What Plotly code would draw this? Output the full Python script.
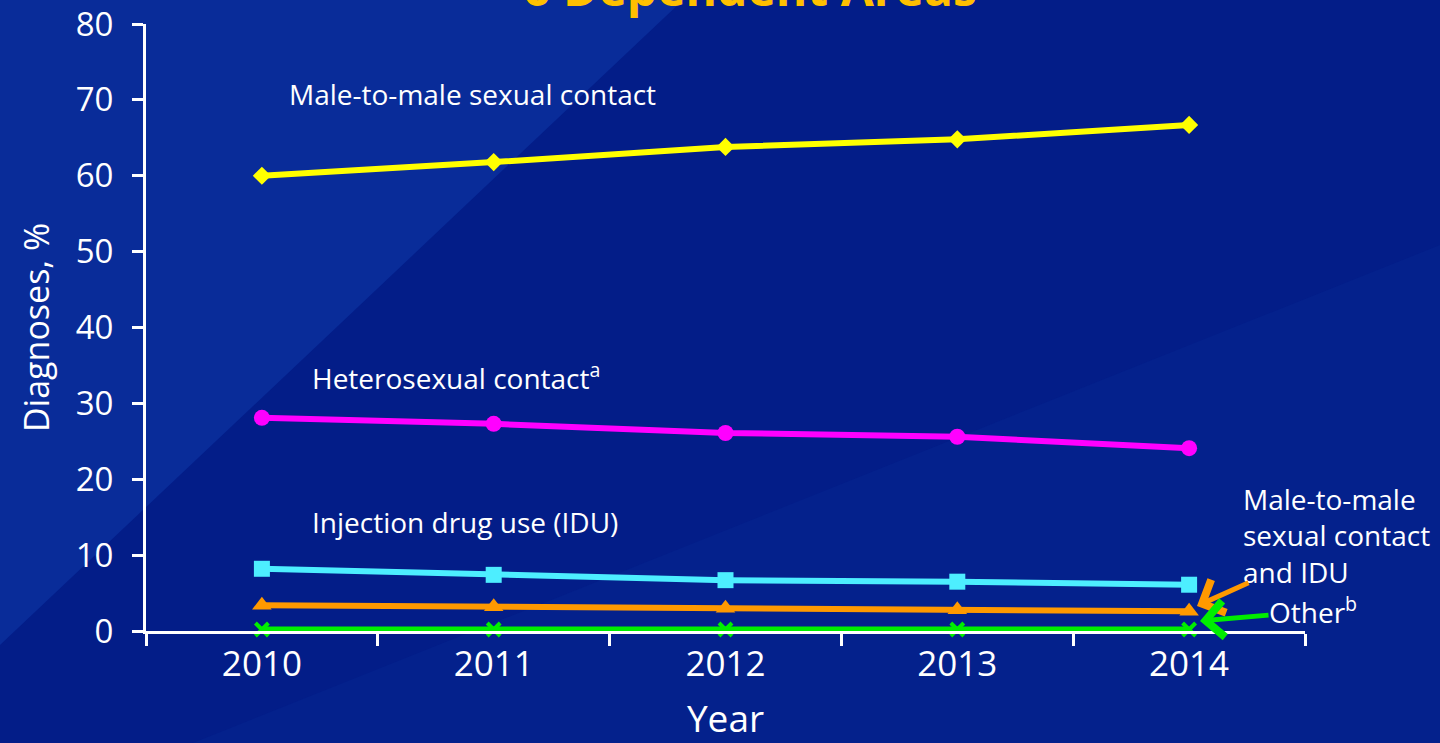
import plotly.graph_objects as go

years = ["2010", "2011", "2012", "2013", "2014"]
msm = [60.0, 61.8, 63.8, 64.8, 66.7]
hetero = [28.1, 27.3, 26.1, 25.6, 24.1]
idu = [8.2, 7.4, 6.7, 6.5, 6.1]
msm_idu = [3.4, 3.2, 3.0, 2.8, 2.6]
other = [0.2, 0.2, 0.2, 0.2, 0.2]

FONT = "Open Sans"
W, H = 1440, 743
L, R, T, B = 146, 135, 24, 112
PW, PH = W - L - R, H - T - B

def px(x):
    return (x - L) / PW

def py(y):
    return (H - B - y) / PH

fig = go.Figure()

series = [
    (msm, "#FFFF00", "diamond", 14),
    (hetero, "#FF00FF", "circle", 16),
    (idu, "#4DEEFF", "square", 16),
    (msm_idu, "#FF9900", "triangle-up", 17),
    (other, "#00EE00", "x-thin", 13),
]
for vals, col, sym, sz in series:
    fig.add_trace(go.Scatter(
        x=years, y=vals, mode="lines+markers",
        line=dict(color=col, width=6),
        marker=dict(symbol=sym, size=sz, color=col,
                    line=dict(color=col, width=4 if sym == "x-thin" else 0)),
        showlegend=False, cliponaxis=False,
    ))

shapes = [
    dict(type="path", xref="paper", yref="paper", layer="below",
         path=f"M {px(0)},{py(743)} L {px(0)},{py(820)} L {px(1440)},{py(245)} L {px(1440)},{py(743)} Z",
         fillcolor="#04218c", opacity=1, line=dict(width=0)),
    dict(type="path", xref="paper", yref="paper", layer="below",
         path=f"M {px(0)},{py(0)} L {px(683)},{py(0)} L {px(0)},{py(645)} Z",
         fillcolor="#092c99", opacity=1, line=dict(width=0)),
]

annotations = [
    dict(text="<b>6 Dependent Areas</b>", x=px(750), y=py(-12), xref="paper", yref="paper",
         showarrow=False, font=dict(family=FONT, size=48, color="#FFC000"),
         xanchor="center", yanchor="middle"),
    dict(text="Male-to-male sexual contact", x=px(287), y=py(94), xref="paper", yref="paper",
         showarrow=False, font=dict(family=FONT, size=28, color="white"),
         xanchor="left", yanchor="middle"),
    dict(text="Heterosexual contact<sup>a</sup>", x=px(310), y=py(376), xref="paper", yref="paper",
         showarrow=False, font=dict(family=FONT, size=28, color="white"),
         xanchor="left", yanchor="middle"),
    dict(text="Injection drug use (IDU)", x=px(310), y=py(522), xref="paper", yref="paper",
         showarrow=False, font=dict(family=FONT, size=28, color="white"),
         xanchor="left", yanchor="middle"),
    dict(text="Male-to-male<br>sexual contact<br>and IDU", x=px(1241), y=py(535), xref="paper", yref="paper",
         showarrow=False, font=dict(family=FONT, size=28, color="white"),
         xanchor="left", yanchor="middle", align="left"),
    dict(text="Other<sup>b</sup>", x=px(1267), y=py(610), xref="paper", yref="paper",
         showarrow=False, font=dict(family=FONT, size=28, color="white"),
         xanchor="left", yanchor="middle"),
    dict(text="", x=px(1197), y=py(606), xref="paper", yref="paper",
         showarrow=True, ax=1250 - 1197, ay=582 - 606, arrowhead=4, arrowsize=1.4,
         arrowwidth=5, arrowcolor="#FF9900"),
    dict(text="", x=px(1200), y=py(621), xref="paper", yref="paper",
         showarrow=True, ax=1270 - 1200, ay=615 - 621, arrowhead=4, arrowsize=1.4,
         arrowwidth=5, arrowcolor="#00EE00"),
]

fig.update_layout(
    width=W, height=H,
    margin=dict(l=L, r=R, t=T, b=B, autoexpand=False),
    paper_bgcolor="#031d88",
    plot_bgcolor="rgba(0,0,0,0)",
    font=dict(family=FONT, color="white"),
    shapes=shapes,
    annotations=annotations,
    xaxis=dict(
        type="category", range=[-0.5, 4.5], tickson="boundaries", automargin=False,
        showline=True, linecolor="white", linewidth=3,
        ticks="outside", ticklen=12, tickwidth=3, tickcolor="white",
        showgrid=False, zeroline=False,
        tickfont=dict(family=FONT, size=35, color="white"),
        title=dict(text="Year", font=dict(family=FONT, size=37, color="white"), standoff=22),
    ),
    yaxis=dict(
        range=[0, 80], dtick=10, automargin=False,
        showline=True, linecolor="white", linewidth=3,
        ticks="outside", ticklen=11, tickwidth=3, tickcolor="white",
        ticklabelstandoff=12,
        showgrid=False, zeroline=False,
        tickfont=dict(family=FONT, size=33, color="white"),
        title=dict(text="Diagnoses, %", font=dict(family=FONT, size=34, color="white"), standoff=16),
    ),
)

fig.write_html("out.html")
